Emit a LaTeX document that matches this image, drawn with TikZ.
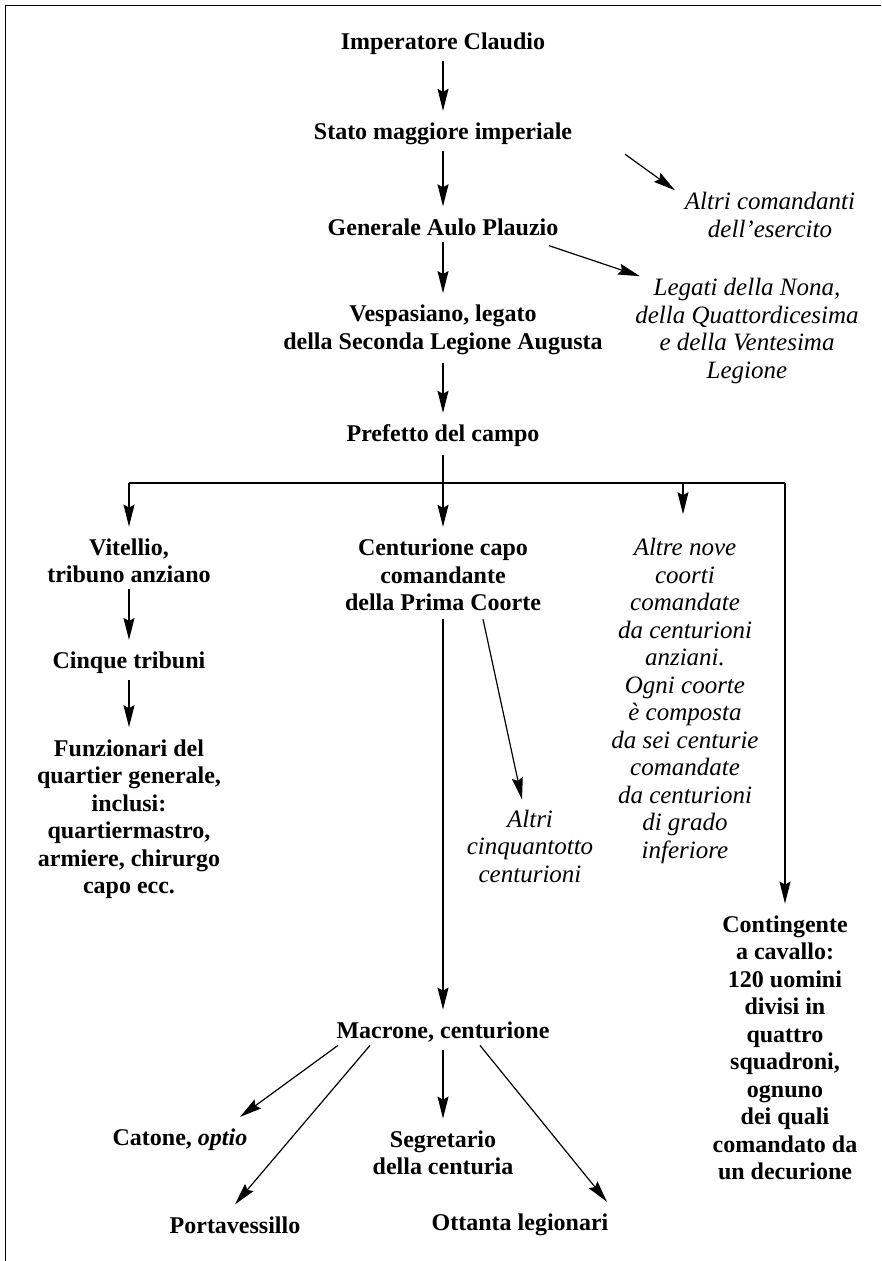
\documentclass[tikz,border=0pt]{standalone}
\usepackage{fontspec}
\setmainfont{Liberation Serif}
\usetikzlibrary{arrows.meta}
\tikzset{
  bt/.style={font=\fontsize{24}{27.5}\selectfont\bfseries, align=center, inner sep=0pt},
  it/.style={font=\fontsize{25}{27.5}\selectfont\itshape, align=center, inner sep=0pt},
  ln/.style={line width=1.2pt},
  arr/.style={ln, -{Stealth[length=22pt,width=11pt,inset=3pt]}},
  frame/.style={line width=1.4pt},
}
\begin{document}
\begin{tikzpicture}[x=1pt,y=-1pt]
\useasboundingbox (0,0) rectangle (881,1261);
\draw[frame] (5.5,1261) -- (5.5,5.5) -- (881,5.5);

\node[bt] (imp) at (443,44) {Imperatore Claudio};
\node[bt] (stato) at (443,134) {Stato maggiore imperiale};
\node[bt] (gen) at (443,227) {Generale Aulo Plauzio};
\node[bt] (vesp) at (443,330) {Vespasiano, legato\\della Seconda Legione Augusta};
\node[bt] (pref) at (443,436) {Prefetto del campo};
\node[it] (altricom) at (770,215) {Altri comandanti\\dell’esercito};
\node[it] (legati) at (747,331) {Legati della Nona,\\della Quattordicesima\\e della Ventesima\\Legione};

\node[bt] (vit) at (129,561) {Vitellio,\\tribuno anziano};
\node[bt] (cinque) at (129,663) {Cinque tribuni};
\node[bt] (funz) at (129,819) {Funzionari del\\quartier generale,\\inclusi:\\quartiermastro,\\armiere, chirurgo\\capo ecc.};
\node[bt] (cent) at (443,575) {Centurione capo\\comandante\\della Prima Coorte};
\node[it] (altre) at (685,701) {Altre nove\\coorti\\comandate\\da centurioni\\anziani.\\Ogni coorte\\è composta\\da sei centurie\\comandate\\da centurioni\\di grado\\inferiore};
\node[it] (altri58) at (530,846) {Altri\\cinquantotto\\centurioni};
\node[bt] (cont) at (785,1048) {Contingente\\a cavallo:\\120 uomini\\divisi in\\quattro\\squadroni,\\ognuno\\dei quali\\comandato da\\un decurione};

\node[bt] (mac) at (443,1032) {Macrone, centurione};
\node[bt] (cat) at (180,1140) {Catone, \textit{optio}};
\node[bt] (seg) at (443,1153) {Segretario\\della centuria};
\node[bt] (porta) at (235,1225) {Portavessillo};
\node[bt] (ott) at (520,1225) {Ottanta legionari};

\draw[arr, shorten <=6pt, shorten >=12pt] (imp) -- (stato);
\draw[arr, shorten <=6pt, shorten >=12pt] (stato) -- (gen);
\draw[arr, shorten <=6pt, shorten >=12pt] (gen) -- (vesp);
\draw[arr, shorten <=8pt, shorten >=12pt] (vesp) -- (pref);
\draw[arr] ([xshift=182pt,yshift=-9pt]stato.south) -- ([xshift=-95pt,yshift=2pt]altricom.north);
\draw[arr] ([xshift=106pt,yshift=-10pt]gen.south) -- ([xshift=-107pt,yshift=2pt]legati.north);

\coordinate (hm) at (443,483);
\coordinate (hl) at (129,483);
\coordinate (h3) at (683,483);
\coordinate (hr) at (785,483);
\draw[ln, shorten <=8pt] (pref.south) -- (hm);
\draw[ln] (hl) -- (hr);
\draw[arr, shorten >=12pt] (hl) -- (vit.north -| hl);
\draw[arr, shorten >=12pt] (hm) -- (cent.north -| hm);
\draw[arr, shorten >=24pt] (h3) -- (altre.north -| h3);
\draw[arr, shorten >=12pt] (hr) -- (cont.north -| hr);

\draw[arr, shorten <=6pt, shorten >=12pt] (vit) -- (cinque);
\draw[arr, shorten <=6pt, shorten >=12pt] (cinque) -- (funz);
\draw[arr, shorten <=8pt, shorten >=12pt] (cent) -- (mac);
\draw[arr] ([xshift=40pt,yshift=-8pt]cent.south) -- ([xshift=-8pt,yshift=10pt]altri58.north);

\draw[arr] ([xshift=-105pt,yshift=-3pt]mac.south) -- ([xshift=60pt,yshift=12pt]cat.north);
\draw[arr] ([xshift=-73pt,yshift=-3pt]mac.south) -- ([xshift=0pt,yshift=12pt]porta.north);
\draw[arr, shorten <=8pt, shorten >=12pt] (mac) -- (seg);
\draw[arr] ([xshift=37pt,yshift=-3pt]mac.south) -- ([xshift=87pt,yshift=12pt]ott.north);
\end{tikzpicture}
\end{document}
